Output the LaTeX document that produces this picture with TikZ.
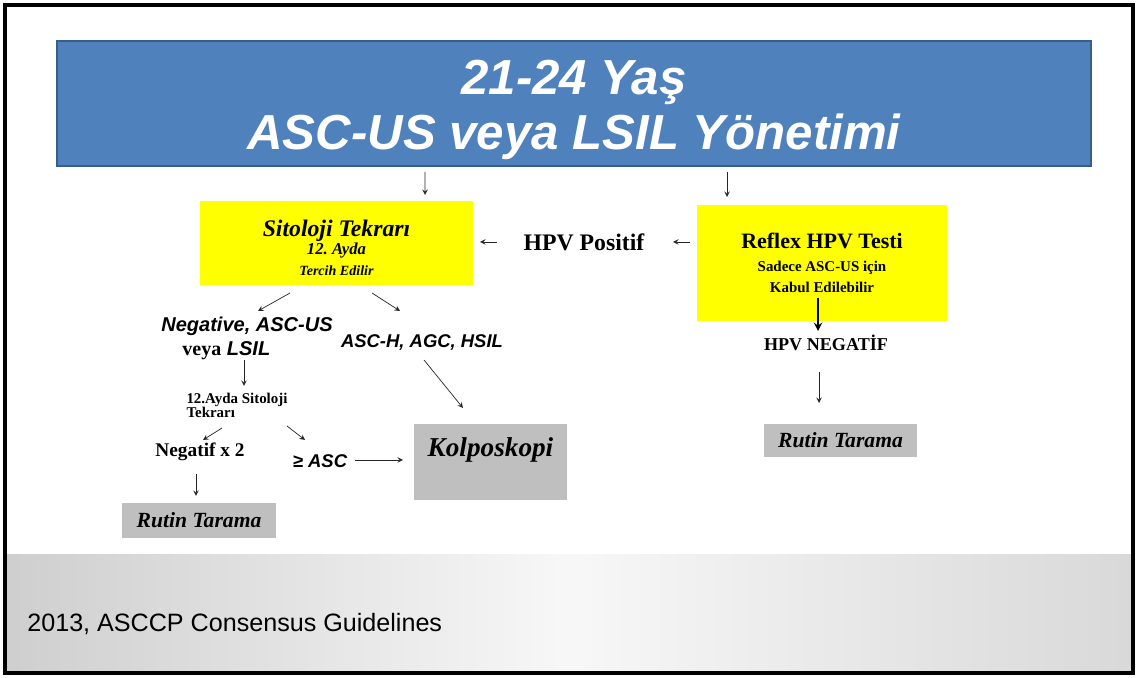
\documentclass[tikz,border=0pt]{standalone}
\usepackage{fontspec}
\setmainfont{Liberation Serif}
\setsansfont{Liberation Sans}
\usetikzlibrary{arrows,positioning,calc}
\definecolor{hdrblue}{HTML}{4F81BD}
\definecolor{hdredge}{HTML}{385D8A}
\definecolor{boxyellow}{HTML}{FFFF00}

\begin{document}
\begin{tikzpicture}[
    x=0.02cm, y=-0.02cm,
    header/.style={draw=hdredge, fill=hdrblue, line width=0.8pt, inner sep=0pt, minimum width=20.68cm, minimum height=2.5cm, align=center, text=white, font=\sffamily\bfseries\itshape\fontsize{28}{31}\selectfont},
    ybox/.style={fill=boxyellow, align=center, inner sep=0pt, font=\bfseries},
    gbox/.style={fill=gray!50, inner sep=0pt, font=\bfseries\itshape\fontsize{12.3}{14}\selectfont},
    lbl/.style={inner sep=0pt, align=center, font=\bfseries},
    slbl/.style={inner sep=0pt, align=center, font=\sffamily\bfseries\itshape\fontsize{10.5}{13.6}\selectfont},
    arrow/.style={->, >=stealth, thin, black!85},
    barrow/.style={->, >=stealth, line width=1.1pt},
]
    \useasboundingbox (0,0) rectangle (1137,678);
    \fill [white] (0,0) rectangle (1137,678);

    % footer band
    \shade [left color=gray!38, right color=gray!30, middle color=gray!6] (7,555) rectangle (1131,671);
    \node [inner sep=0pt, anchor=west, font=\sffamily\fontsize{14.3}{16}\selectfont] (src) at (27,624) {2013, ASCCP Consensus Guidelines};

    % header
    \node [header] (title) at (574,103.5) {\rule{0pt}{27pt}21-24 Yaş\\ASC-US veya LSIL Yönetimi};

    % boxes
    \node [ybox, minimum width=5.46cm, minimum height=1.68cm] (sit) at (336.5,243)
        {{\itshape\fontsize{13.5}{14}\selectfont\rule{0pt}{15pt}Sitoloji Tekrarı}\\[-1.5pt]{\itshape\fontsize{9.5}{12}\selectfont 12.\ Ayda}\\[0pt]{\itshape\fontsize{8}{10}\selectfont Tercih Edilir}};
    \node [ybox, minimum width=5.0cm, minimum height=2.32cm] (reflex) at (822,263)
        {{\fontsize{12.5}{14}\selectfont Reflex HPV Testi}\\[1pt]{\fontsize{8.5}{9.5}\selectfont Sadece ASC-US için}\\{\fontsize{8.5}{9.5}\selectfont Kabul Edilebilir}};
    \node [lbl, font=\bfseries\fontsize{13.5}{15}\selectfont] (hpvpos) at (584,242) {HPV Positif};
    \node [lbl, font=\bfseries\fontsize{10.3}{12}\selectfont] (hpvneg) at (826,343) {HPV NEGATİF};

    \node [slbl, align=left, font=\sffamily\bfseries\itshape\fontsize{11.4}{13.6}\selectfont] (neg) at (247,338) {Negative, ASC-US\\\hspace*{12pt}{\normalfont\bfseries veya} LSIL};
    \node [slbl] (asch) at (422,342) {ASC-H, AGC, HSIL};
    \node [lbl, align=left, font=\bfseries\fontsize{8.5}{8}\selectfont] (tekrar) at (237,405) {12.Ayda Sitoloji\\Tekrarı};
    \node [lbl, font=\bfseries\fontsize{11}{13}\selectfont] (negx) at (200,452) {Negatif x 2};
    \node [slbl] (gasc) at (320,461) {≥ ASC};

    \node [gbox, minimum width=3.06cm, minimum height=1.52cm, text height=10pt, text depth=16pt, font=\bfseries\itshape\fontsize{15.5}{17}\selectfont] (kolpo) at (490.5,462) {Kolposkopi};
    \node [gbox, minimum width=3.08cm, minimum height=0.7cm] (rutin1) at (199,520.5) {Rutin Tarama};
    \node [gbox, minimum width=3.06cm, minimum height=0.66cm] (rutin2) at (840.5,440.5) {Rutin Tarama};

    % connectors
    \draw [arrow] ($(title)+(-149,68.5)$) -- ($(sit)+(88.5,-48)$);
    \draw [arrow] ($(title)+(153,68.5)$) -- ($(reflex)+(-95,-66)$);
    \draw [arrow] ($(reflex)+(-132,-21)$) -- ($(hpvpos)+(89,0)$);
    \draw [arrow] ($(hpvpos)+(-87,0)$) -- ($(sit)+(143.5,-1)$);
    \draw [arrow] ($(sit)+(-46.5,50)$) -- ($(neg)+(11,-27)$);
    \draw [arrow] ($(sit)+(35.5,50)$) -- ($(asch)+(-22,-31)$);
    \draw [arrow] ($(neg)+(-3,22)$) -- ($(tekrar)+(7,-19)$);
    \draw [arrow] ($(asch)+(2,18)$) -- ($(kolpo)+(-27.5,-54)$);
    \draw [arrow] ($(tekrar)+(-15,23)$) -- ($(negx)+(3,-12)$);
    \draw [arrow] ($(tekrar)+(50,21)$) -- ($(gasc)+(-15,-21)$);
    \draw [arrow] ($(gasc)+(35,-1)$) -- ($(kolpo)+(-87.5,-2)$);
    \draw [arrow] ($(negx)+(-4,22)$) -- ($(rutin1)+(-3,-24.5)$);
    \draw [barrow] ($(reflex)+(-4,35)$) -- ($(hpvneg)+(-8,-12)$);
    \draw [arrow] ($(hpvneg)+(-7,29)$) -- ($(rutin2)+(-21.5,-37.5)$);

    % frame
    \draw [line width=2pt] (5,5) rectangle (1133,673);
\end{tikzpicture}
\end{document}
